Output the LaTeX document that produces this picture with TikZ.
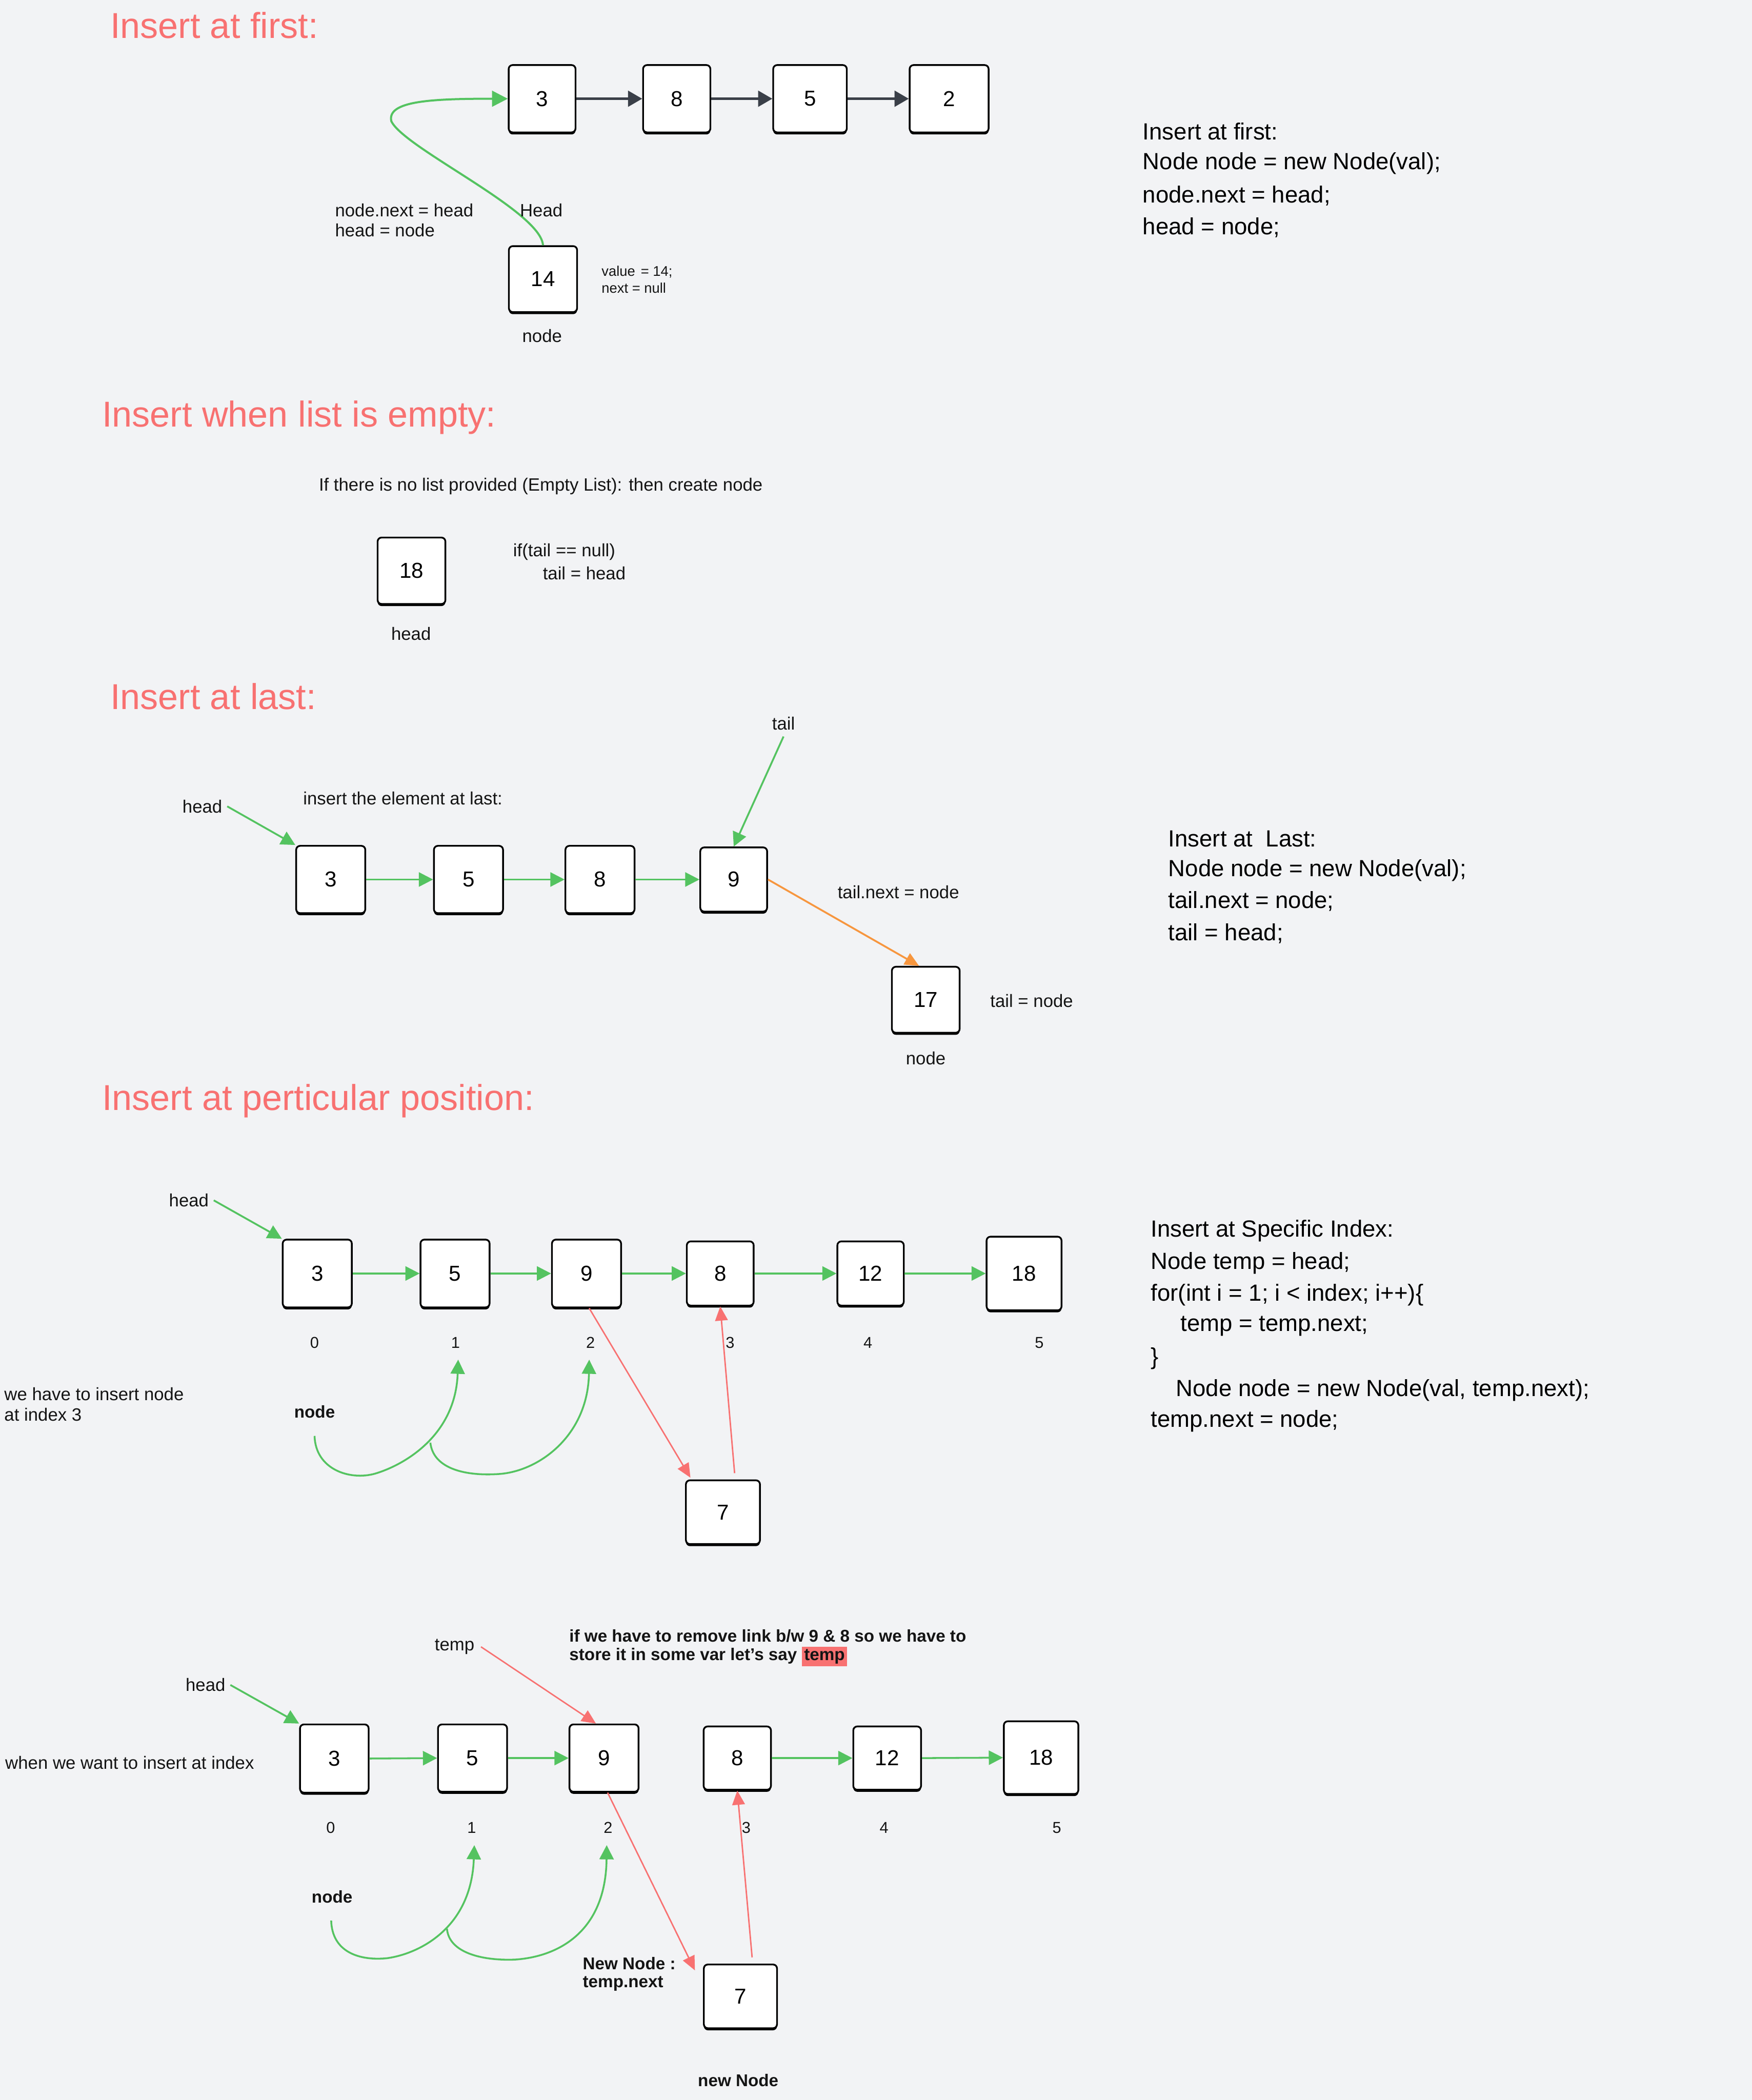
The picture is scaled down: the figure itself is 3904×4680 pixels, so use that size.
\documentclass[tikz,border=0pt]{standalone}
\usepackage{fontspec}
\setmainfont{Liberation Sans}
\usetikzlibrary{arrows.meta,shadows,calc}
\definecolor{bgc}{RGB}{242,243,245}
\definecolor{ttlc}{RGB}{248,113,113}
\definecolor{grn}{RGB}{84,195,96}
\definecolor{drk}{RGB}{58,63,72}
\definecolor{org}{RGB}{247,150,62}
\definecolor{rd}{RGB}{248,113,113}
\definecolor{txt}{RGB}{20,20,20}
\newcommand\hltemp{{\setlength{\fboxsep}{1.5pt}\colorbox{rd}{temp}}}
\tikzset{
  lnode/.style={draw=black, line width=1.1pt, fill=white, rounded corners=2.5pt, inner sep=0pt,
    font=\fontsize{13.7}{16}\selectfont,
    drop shadow={shadow xshift=0pt, shadow yshift=-1.3pt, opacity=1, fill=black}},
  wh/.style 2 args={minimum width=#1*0.01cm, minimum height=#2*0.01cm},
  ttl/.style={anchor=west, text=ttlc, font=\fontsize{22.8}{26}\selectfont, inner sep=0pt},
  code/.style={anchor=west, text=black, font=\fontsize{14.8}{17}\selectfont, inner sep=0pt},
  lbl/.style={text=txt, font=\fontsize{11.3}{13}\selectfont, inner sep=0pt},
  lblw/.style={lbl, anchor=west},
  bld/.style={text=txt, font=\fontsize{10.8}{13}\selectfont\bfseries, inner sep=0pt},
  bldw/.style={bld, anchor=west},
  idx/.style={text=txt, font=\fontsize{10}{12}\selectfont, inner sep=0pt},
  tiny/.style={anchor=west, text=txt, font=\fontsize{8.9}{10}\selectfont, inner sep=0pt},
  garr/.style={draw=grn, line width=1.15pt, -{Triangle[length=9pt,width=9pt]}},
  darr/.style={draw=drk, line width=1.5pt, -{Triangle[length=9pt,width=10pt]}},
  rarr/.style={draw=rd, line width=0.9pt, -{Triangle[length=9pt,width=8pt]}},
  oarr/.style={draw=org, line width=1.15pt, -{Triangle[length=9pt,width=8pt]}},
}
\begin{document}
\begin{tikzpicture}[x=0.01cm, y=-0.01cm]
\fill[bgc] (0,0) rectangle (3904,4680);
\useasboundingbox (0,0) rectangle (3904,4680);

% ---------------- Section 1: Insert at first ----------------
\node[ttl] (title1) at (245,57) {Insert at first:};
\node[lnode, wh={149}{150}] (f3) at (1208,220) {3};
\node[lnode, wh={150}{150}] (f8) at (1508,220) {8};
\node[lnode, wh={164}{150}] (f5) at (1805,220) {5};
\node[lnode, wh={176}{150}] (f2) at (2115,220) {2};
\node[lnode, wh={152}{147}] (f14) at (1210,622) {14};
\draw[darr] (f3.east) -- (f8.west);
\draw[darr] (f8.east) -- (f5.west);
\draw[darr] (f5.east) -- (f2.west);
\draw[draw=grn, line width=1.3pt, -{Triangle[length=10pt,width=10pt]}]
  (f14.north) .. controls (1205,470) and (900,330) .. (872,270)
  .. controls (862,225) and (960,220) .. (f3.west);
\node[lblw] (a1) at (746,469) {node.next = head};
\node[lblw] (a2) at (746,513) {head = node};
\node[lblw] (a3) at (1158,469) {Head};
\node[tiny] (a4) at (1340,606) {value\kern0.12em\ = 14;};
\node[tiny] (a5) at (1340,642) {next = null};
\node[lbl] (a6) at (1208,749) {node};
\node[code] (c11) at (2546,293) {Insert at first:};
\node[code] (c12) at (2546,364) {Node node = new Node(val);};
\node[code] (c13) at (2546,436) {node.next = head;};
\node[code] (c14) at (2546,507) {head = node;};

% ---------------- Section 2: empty list ----------------
\node[ttl] (title2) at (227,931) {Insert when list is empty:};
\node[lblw] (b1) at (710,1084) {If there is no list provided (Empty List): then create node};
\node[lnode, wh={151}{148}] (e18) at (917,1272) {18};
\node[lblw] (b2) at (1143,1230) {if(tail == null)};
\node[lblw] (b3) at (1209,1278) {tail = head};
\node[lbl] (b4) at (916,1412) {head};

% ---------------- Section 3: Insert at last ----------------
\node[ttl] (title3) at (245,1552) {Insert at last:};
\node[lnode, wh={154}{150}] (l3) at (737,1960) {3};
\node[lnode, wh={154}{150}] (l5) at (1044,1960) {5};
\node[lnode, wh={154}{150}] (l8) at (1337,1960) {8};
\node[lnode, wh={149}{143}] (l9) at (1635,1960) {9};
\node[lnode, wh={151}{147}] (l17) at (2063,2228) {17};
\draw[garr] (l3.east) -- (l5.west);
\draw[garr] (l5.east) -- (l8.west);
\draw[garr] (l8.east) -- (l9.west);
\node[lblw] (lhead) at (406,1797) {head};
\draw[garr] ([xshift=3pt]lhead.east) -- (l3.north west);
\node[lblw] (d1) at (675,1779) {insert the element at last:};
\node[lbl] (ltail) at (1746,1612) {tail};
\draw[garr] ([yshift=-4pt]ltail.south) -- (l9.north);
\draw[oarr] (l9.east) -- ($(l17.north)+(-15,0)$);
\node[lblw] (d2) at (1866,1988) {tail.next = node};
\node[lblw] (d3) at (2206,2230) {tail = node};
\node[lbl] (d4) at (2063,2358) {node};
\node[code] (c31) at (2603,1869) {Insert at\ \ Last:};
\node[code] (c32) at (2603,1940) {Node node = new Node(val);};
\node[code] (c33) at (2603,2009) {tail.next = node;};
\node[code] (c34) at (2603,2081) {tail = head;};

% ---------------- Section 4: particular position ----------------
\node[ttl] (title4) at (227,2454) {Insert at perticular position:};
\node[lnode, wh={154}{151}] (p3) at (707,2838) {3};
\node[lnode, wh={154}{151}] (p5) at (1014,2838) {5};
\node[lnode, wh={154}{151}] (p9) at (1307,2838) {9};
\node[lnode, wh={149}{143}] (p8) at (1605,2838) {8};
\node[lnode, wh={148}{143}] (p12) at (1940,2838) {12};
\node[lnode, wh={167}{164}] (p18) at (2282,2838) {18};
\node[lnode, wh={165}{142}] (p7) at (1611,3370) {7};
\draw[garr] (p3.east) -- (p5.west);
\draw[garr] (p5.east) -- (p9.west);
\draw[garr] (p9.east) -- (p8.west);
\draw[garr] (p8.east) -- (p12.west);
\draw[garr] (p12.east) -- (p18.west);
\node[lblw] (phead) at (376,2675) {head};
\draw[garr] ([xshift=3pt]phead.east) -- (p3.north west);
\node[idx] (pi0) at (701,2992) {0};
\node[idx] (pi1) at (1015,2992) {1};
\node[idx] (pi2) at (1316,2992) {2};
\node[idx] (pi3) at (1627,2992) {3};
\node[idx] (pi4) at (1934,2992) {4};
\node[idx] (pi5) at (2316,2992) {5};
\draw[rarr] ($(p9.south)+(6,0)$) -- ($(p7.north west)+(12,-4)$);
\draw[rarr] ($(p7.north)+(26,-14)$) -- (p8.south);
\node[bld] (pnode) at (701,3146) {node};
\coordinate (pc0) at (701,3200);
\coordinate (pc1) at (959,3215);
\coordinate (pt1) at (1021,3030);
\coordinate (pt2) at (1313,3030);
\draw[garr] (pc0) .. controls (703,3275) and (780,3300) .. (836,3284)
  .. controls (900,3265) and (1015,3200) .. (pt1);
\draw[garr] (pc1) .. controls (965,3270) and (1030,3290) .. (1110,3285)
  .. controls (1200,3280) and (1310,3200) .. (pt2);
\node[lblw] (g1) at (9,3107) {we have to insert node};
\node[lblw] (g2) at (9,3152) {at index 3};
\node[code] (c41) at (2564,2743) {Insert at Specific Index:};
\node[code] (c42) at (2564,2815) {Node temp = head;};
\node[code] (c43) at (2564,2886) {for(int i = 1; i < index; i++)\{};
\node[code] (c44) at (2630,2955) {temp = temp.next;};
\node[code] (c45) at (2564,3027) {\}};
\node[code] (c46) at (2620,3098) {Node node = new Node(val, temp.next);};
\node[code] (c47) at (2564,3167) {temp.next = node;};

% ---------------- Section 5 ----------------
\node[lblw] (qtemp) at (968,3670) {temp};
\node[bldw] (h1) at (1268,3646) {if we have to remove link b/w 9 \& 8 so we have to};
\node[bldw] (h2) at (1268,3692) {store it in some var let's say \hltemp};
\node[lblw] (qhead) at (413,3755) {head};
\node[lblw] (h3) at (11,3928) {when we want to insert at index};
\node[lnode, wh={153}{152}] (q3) at (745,3919) {3};
\node[lnode, wh={154}{150}] (q5) at (1053,3918) {5};
\node[lnode, wh={154}{150}] (q9) at (1346,3918) {9};
\node[lnode, wh={150}{141}] (q8) at (1643,3918) {8};
\node[lnode, wh={151}{141}] (q12) at (1977,3918) {12};
\node[lnode, wh={166}{162}] (q18) at (2320,3917) {18};
\node[lnode, wh={163}{142}] (q7) at (1650,4449) {7};
\draw[garr] (q3.east) -- (q5.west);
\draw[garr] (q5.east) -- (q9.west);
\draw[garr] (q8.east) -- (q12.west);
\draw[garr] (q12.east) -- (q18.west);
\draw[garr] ([xshift=3pt]qhead.east) -- (q3.north west);
\draw[rarr] ([xshift=4pt]qtemp.east) -- ($(q9.north)+(-18,0)$);
\node[idx] (qi0) at (737,4073) {0};
\node[idx] (qi1) at (1051,4073) {1};
\node[idx] (qi2) at (1355,4073) {2};
\node[idx] (qi3) at (1663,4073) {3};
\node[idx] (qi4) at (1970,4073) {4};
\node[idx] (qi5) at (2355,4073) {5};
\draw[rarr] ($(q9.south)+(8,0)$) -- ($(q7.north west)+(-18,15)$);
\draw[rarr] ($(q7.north)+(26,-14)$) -- (q8.south);
\node[bld] (qnode) at (740,4227) {node};
\coordinate (qc0) at (738,4280);
\coordinate (qc1) at (996,4298);
\coordinate (qt1) at (1057,4112);
\coordinate (qt2) at (1352,4112);
\draw[garr] (qc0) .. controls (740,4350) and (800,4370) .. (862,4364)
  .. controls (930,4355) and (1050,4300) .. (qt1);
\draw[garr] (qc1) .. controls (1000,4350) and (1070,4370) .. (1148,4367)
  .. controls (1250,4360) and (1350,4300) .. (qt2);
\node[bldw] (k1) at (1298,4376) {New Node :};
\node[bldw] (k2) at (1298,4421) {temp.next};
\node[bld] (k3) at (1645,4636) {new Node};
\end{tikzpicture}
\end{document}
